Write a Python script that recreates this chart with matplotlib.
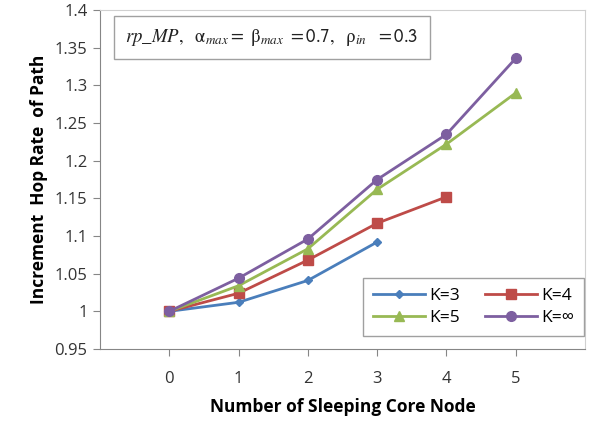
import matplotlib
matplotlib.use('Agg')
import matplotlib.pyplot as plt
from matplotlib.ticker import FuncFormatter, MultipleLocator

nodes = [0, 1, 2, 3, 4, 5]
k3 = [1.000, 1.012, 1.041, 1.092]
k4 = [1.000, 1.024, 1.068, 1.117, 1.152]
k5 = [1.000, 1.034, 1.083, 1.162, 1.222, 1.290]
k_inf = [1.000, 1.044, 1.096, 1.175, 1.235, 1.336]

series = [
    ('K=3', k3, '#4A7EBB', 'D', 4.5),
    ('K=4', k4, '#BE4B48', 's', 6.5),
    ('K=5', k5, '#98B954', '^', 7),
    ('K=\u221e', k_inf, '#7D5FA0', 'o', 7),
]

plt.rcParams['font.family'] = ['Open Sans', 'DejaVu Sans']
plt.rcParams['mathtext.fontset'] = 'stix'

fig = plt.figure(figsize=(5.9, 4.23), dpi=100)
ax = fig.add_axes([0.1695, 0.175, 0.822, 0.801])

lines = {}
for label, vals, color, marker, ms in series:
    line, = ax.plot(nodes[:len(vals)], vals, color=color, lw=2, marker=marker,
                    markersize=ms, label=label, zorder=3)
    lines[label] = line

ax.set_xlim(-1, 6)
ax.set_ylim(0.95, 1.4)
ax.set_xticks(nodes)
ax.yaxis.set_major_locator(MultipleLocator(0.05))
ax.yaxis.set_major_formatter(FuncFormatter(lambda v, p: f'{round(v, 2):g}'))

for side in ['left', 'bottom']:
    ax.spines[side].set_color('#868686')
for side in ['top', 'right']:
    ax.spines[side].set_color('#d0d0d0')
ax.tick_params(axis='both', colors='#868686', labelcolor='#333333', labelsize=12, length=5)
ax.tick_params(axis='x', pad=11)
ax.tick_params(axis='y', pad=4)

ax.set_xlabel('Number of Sleeping Core Node', fontsize=12.5, fontweight='bold', labelpad=8)
ax.set_ylabel('Increment  Hop Rate  of Path', fontsize=12.5, fontweight='bold', labelpad=5)

order = ['K=3', 'K=5', 'K=4', 'K=\u221e']
leg = ax.legend([lines[k] for k in order], order, ncol=2, fontsize=12.5,
                loc='upper left', bbox_to_anchor=(354 / 590, 1 - 269 / 423),
                bbox_transform=fig.transFigure, fancybox=False, edgecolor='#a0a0a0',
                framealpha=1, borderpad=0.6, handlelength=3.0, columnspacing=1.4,
                handletextpad=0.25, labelspacing=0.3)
leg.get_frame().set_linewidth(1)

note = (r'$rp\_MP,\ \ \mathrm{\alpha}_{max}\mathsf{=}\ \mathrm{\beta}_{max}\ \mathsf{=0.7,}\ \ '
        r'\mathrm{\rho}_{in}\ \ \mathsf{=0.3}$')
ax.text(0.052, 0.95, note, transform=ax.transAxes, fontsize=13.5, va='top', ha='left',
        color='#222222',
        bbox=dict(boxstyle='square,pad=0.6', fc='white', ec='#a0a0a0', lw=1))

fig.savefig('out.png', dpi=100)
